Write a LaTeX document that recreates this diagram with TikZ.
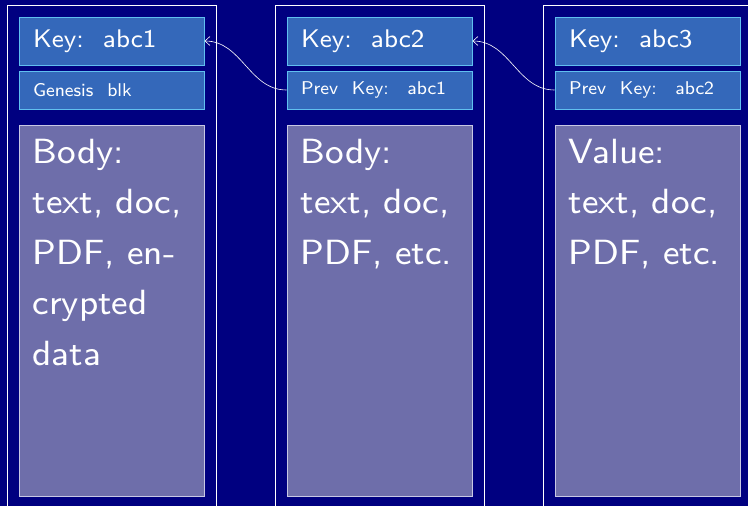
\documentclass[tikz,border=0pt]{standalone}
\usepackage{fontspec}
\setsansfont{lmsans8-regular.otf}
\usetikzlibrary{positioning, arrows.meta, fit}

\definecolor{navybg}{RGB}{0,0,128}
\definecolor{keyfill}{RGB}{52,104,186}
\definecolor{keyline}{RGB}{96,192,240}
\definecolor{bodyfill}{RGB}{110,110,170}
\definecolor{bodyline}{RGB}{200,200,228}

\newcommand{\keyfont}{\sffamily\fontsize{25.5}{28}\selectfont}
\newcommand{\prevfont}{\sffamily\fontsize{18.5}{22}\selectfont}
\newcommand{\bodyfont}{\sffamily\fontsize{35}{50.5}\selectfont}

\begin{document}
\begin{tikzpicture}[x=1pt, y=-1pt,
  keybox/.style={draw=keyline, fill=keyfill, line width=1pt, minimum width=185pt,
                 minimum height=48pt, text width=157pt, inner xsep=14pt, align=left,
                 text=white, font=\keyfont,
                 execute at begin node={\spaceskip=0.75em\xspaceskip=0.75em\relax}},
  prevbox/.style={keybox, minimum height=38pt, font=\prevfont,
                  execute at begin node={\spaceskip=0.75em\xspaceskip=1.0em\relax}},
  bodybox/.style={draw=bodyline, fill=bodyfill, line width=1pt, minimum width=185pt,
                  minimum height=371pt},
  bodytxt/.style={anchor=north west, inner sep=0pt, align=left, text=white,
                  font=\bodyfont},
  frame/.style={draw=white, line width=0.8pt, inner sep=11.5pt},
  link/.style={-{Straight Barb[length=5pt, width=9pt]}, draw=white, line width=0.6pt},
]

% --- Background ---
\fill[navybg] (0,0) rectangle (748,506);
\clip (0,0) rectangle (748,506);

% --- Block 1 ---
\node[keybox] (key1) at (111.5,41) {Key: abc1};
\node[prevbox, below=5pt of key1] (prev1) {Genesis blk};
\node[bodybox, below=15pt of prev1] (body1) {};
\node[bodytxt, xshift=14pt, yshift=-14.5pt] (txt1) at (body1.north west)
  {Body:\\text, doc,\\PDF, en-\\crypted\\data};

% --- Block 2 ---
\node[keybox, right=82pt of key1] (key2) {Key: abc2};
\node[prevbox, below=5pt of key2] (prev2) {Prev Key: abc1};
\node[bodybox, below=15pt of prev2] (body2) {};
\node[bodytxt, xshift=14pt, yshift=-14.5pt] (txt2) at (body2.north west)
  {Body:\\text, doc,\\PDF, etc.};

% --- Block 3 ---
\node[keybox, right=82pt of key2] (key3) {Key: abc3};
\node[prevbox, below=5pt of key3] (prev3) {Prev Key: abc2};
\node[bodybox, below=15pt of prev3] (body3) {};
\node[bodytxt, xshift=14pt, yshift=-14.5pt] (txt3) at (body3.north west)
  {Value:\\text, doc,\\PDF, etc.};

% --- Frames ---
\node[frame, fit=(key1)(body1)] (blk1) {};
\node[frame, fit=(key2)(body2)] (blk2) {};
\node[frame, fit=(key3)(body3)] (blk3) {};

% --- Back links ---
\draw[link] (prev2.west) to[out=180, in=0] (key1.east);
\draw[link] (prev3.west) to[out=180, in=0] (key2.east);

\end{tikzpicture}
\end{document}
